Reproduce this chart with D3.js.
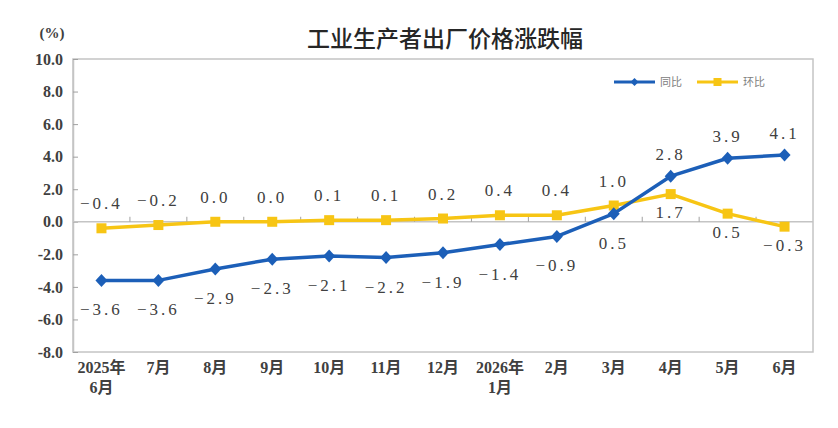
<!DOCTYPE html>
<html lang="zh-CN">
<head>
<meta charset="UTF-8">
<title>工业生产者出厂价格涨跌幅</title>
<script src="https://d3js.org/d3.v7.min.js"></script>
<style>
  body { margin: 0; background: #fff; }
</style>
</head>
<body>
<svg width="838" height="428"></svg>
<script>
  // 月份（两行标签）
  const months = ["2025年|6月", "7月", "8月", "9月", "10月", "11月", "12月", "2026年|1月", "2月", "3月", "4月", "5月", "6月"];
  const yoy = [-3.6, -3.6, -2.9, -2.3, -2.1, -2.2, -1.9, -1.4, -0.9, 0.5, 2.8, 3.9, 4.1]; // 同比
  const mom = [-0.4, -0.2, 0.0, 0.0, 0.1, 0.1, 0.2, 0.4, 0.4, 1.0, 1.7, 0.5, -0.3]; // 环比
  const yTicks = [-8, -6, -4, -2, 0, 2, 4, 6, 8, 10];
  // 标签放在点的上方(1)或下方(-1)
  const yoyPos = [-1, -1, -1, -1, -1, -1, -1, -1, -1, -1, 1, 1, 1];
  const momPos = [1, 1, 1, 1, 1, 1, 1, 1, 1, 1, -1, -1, -1];

  const blue = "#1c5fb8";
  const yellow = "#f7c514";
  const frame = "#c4c4c4";

  const pL = 73, pR = 813, pT = 59, pB = 352;
  const svg = d3.select("svg");

  const x = d3.scaleBand().domain(d3.range(months.length)).range([pL, pR]).padding(0);
  const cx = i => x(i) + x.bandwidth() / 2;
  const y = d3.scaleLinear().domain([-8, 10]).range([pB, pT]);

  // 标题
  svg.append("text")
    .attr("x", 445).attr("y", 47)
    .attr("text-anchor", "middle")
    .style("font-family", "'Noto Sans CJK SC', sans-serif")
    .style("font-size", "23px").style("font-weight", "500")
    .style("fill", "#262626")
    .text("工业生产者出厂价格涨跌幅");

  svg.append("text")
    .attr("x", 52).attr("y", 38)
    .attr("text-anchor", "middle")
    .style("font-family", "'Liberation Serif', serif")
    .style("font-size", "15px").style("font-weight", "bold")
    .style("fill", "#404040")
    .text("(%)");

  // 边框
  svg.append("rect")
    .attr("x", pL).attr("y", pT)
    .attr("width", pR - pL).attr("height", pB - pT)
    .attr("fill", "none").attr("stroke", frame).attr("stroke-width", 1.5);

  // y 轴
  const yAxis = svg.append("g")
    .attr("transform", `translate(${pL},0)`)
    .call(d3.axisLeft(y).tickValues(yTicks).tickSizeInner(-5).tickSizeOuter(0).tickPadding(10)
      .tickFormat(d => d.toFixed(1)));
  yAxis.select(".domain").attr("stroke", frame).attr("stroke-width", 1.5);
  yAxis.selectAll(".tick line").attr("stroke", "#a0a0a0");
  yAxis.selectAll(".tick text")
    .style("font-family", "'Liberation Serif', serif")
    .style("font-size", "16px").style("font-weight", "bold")
    .style("fill", "#404040");

  // 零线及刻度
  svg.append("line")
    .attr("x1", pL).attr("x2", pR)
    .attr("y1", y(0)).attr("y2", y(0))
    .attr("stroke", frame).attr("stroke-width", 1.5);
  svg.append("g").selectAll("line")
    .data(d3.range(1, months.length))
    .join("line")
    .attr("x1", i => x(i)).attr("x2", i => x(i))
    .attr("y1", y(0)).attr("y2", y(0) - 5)
    .attr("stroke", "#a0a0a0");

  // x 轴标签
  const xl = svg.append("g").selectAll("text")
    .data(months)
    .join("text")
    .attr("x", (d, i) => cx(i))
    .attr("y", 373)
    .attr("text-anchor", "middle")
    .style("font-family", "'Liberation Serif', 'Noto Sans CJK SC', serif")
    .style("font-size", "16px").style("font-weight", "bold")
    .style("fill", "#404040");
  xl.each(function (d, i) {
    const parts = d.split("|");
    d3.select(this).selectAll("tspan")
      .data(parts)
      .join("tspan")
      .attr("x", cx(i))
      .attr("dy", (p, j) => j === 0 ? 0 : 20)
      .text(p => p);
  });

  const line = d3.line().x((d, i) => cx(i)).y(d => y(d));

  // 环比
  svg.append("path")
    .datum(mom)
    .attr("d", line)
    .attr("fill", "none").attr("stroke", yellow).attr("stroke-width", 3.5)
    .attr("stroke-linejoin", "round");
  svg.append("g").selectAll("rect")
    .data(mom)
    .join("rect")
    .attr("x", (d, i) => cx(i) - 5).attr("y", d => y(d) - 5)
    .attr("width", 10).attr("height", 10)
    .attr("fill", yellow);

  // 同比
  svg.append("path")
    .datum(yoy)
    .attr("d", line)
    .attr("fill", "none").attr("stroke", blue).attr("stroke-width", 3.5)
    .attr("stroke-linejoin", "round");
  svg.append("g").selectAll("path")
    .data(yoy)
    .join("path")
    .attr("d", "M0,-6.5L6,0L0,6.5L-6,0Z")
    .attr("transform", (d, i) => `translate(${cx(i)},${y(d)})`)
    .attr("fill", blue);

  // 数据标签
  const fmt = v => (v < 0 ? "−" : "") + Math.abs(v).toFixed(1);
  function labels(vals, pos, upOff, downOff) {
    svg.append("g").selectAll("text")
      .data(vals)
      .join("text")
      .attr("x", (d, i) => cx(i))
      .attr("y", (d, i) => y(d) + (pos[i] > 0 ? -upOff : downOff) + 6)
      .attr("text-anchor", "middle")
      .style("font-family", "'Liberation Serif', serif")
      .style("font-size", "17px")
      .style("letter-spacing", "3px")
      .style("fill", "#404040")
      .text(d => fmt(d));
  }
  labels(yoy, yoyPos, 22, 29);
  labels(mom, momPos, 25, 18);

  // 图例
  const lg = svg.append("g").attr("transform", "translate(614,82)");
  lg.append("line").attr("x1", 0).attr("x2", 41).attr("stroke", blue).attr("stroke-width", 3);
  lg.append("path").attr("d", "M0,-4L4,0L0,4L-4,0Z").attr("transform", "translate(20.5,0)").attr("fill", blue);
  lg.append("text").attr("x", 46).attr("y", 4)
    .style("font-family", "'Noto Sans CJK SC', sans-serif").style("font-size", "11px").style("fill", "#808080")
    .text("同比");
  lg.append("line").attr("x1", 83).attr("x2", 124).attr("stroke", yellow).attr("stroke-width", 3);
  lg.append("rect").attr("x", 99.5).attr("y", -4).attr("width", 8).attr("height", 8).attr("fill", yellow);
  lg.append("text").attr("x", 129).attr("y", 4)
    .style("font-family", "'Noto Sans CJK SC', sans-serif").style("font-size", "11px").style("fill", "#808080")
    .text("环比");
</script>
</body>
</html>
